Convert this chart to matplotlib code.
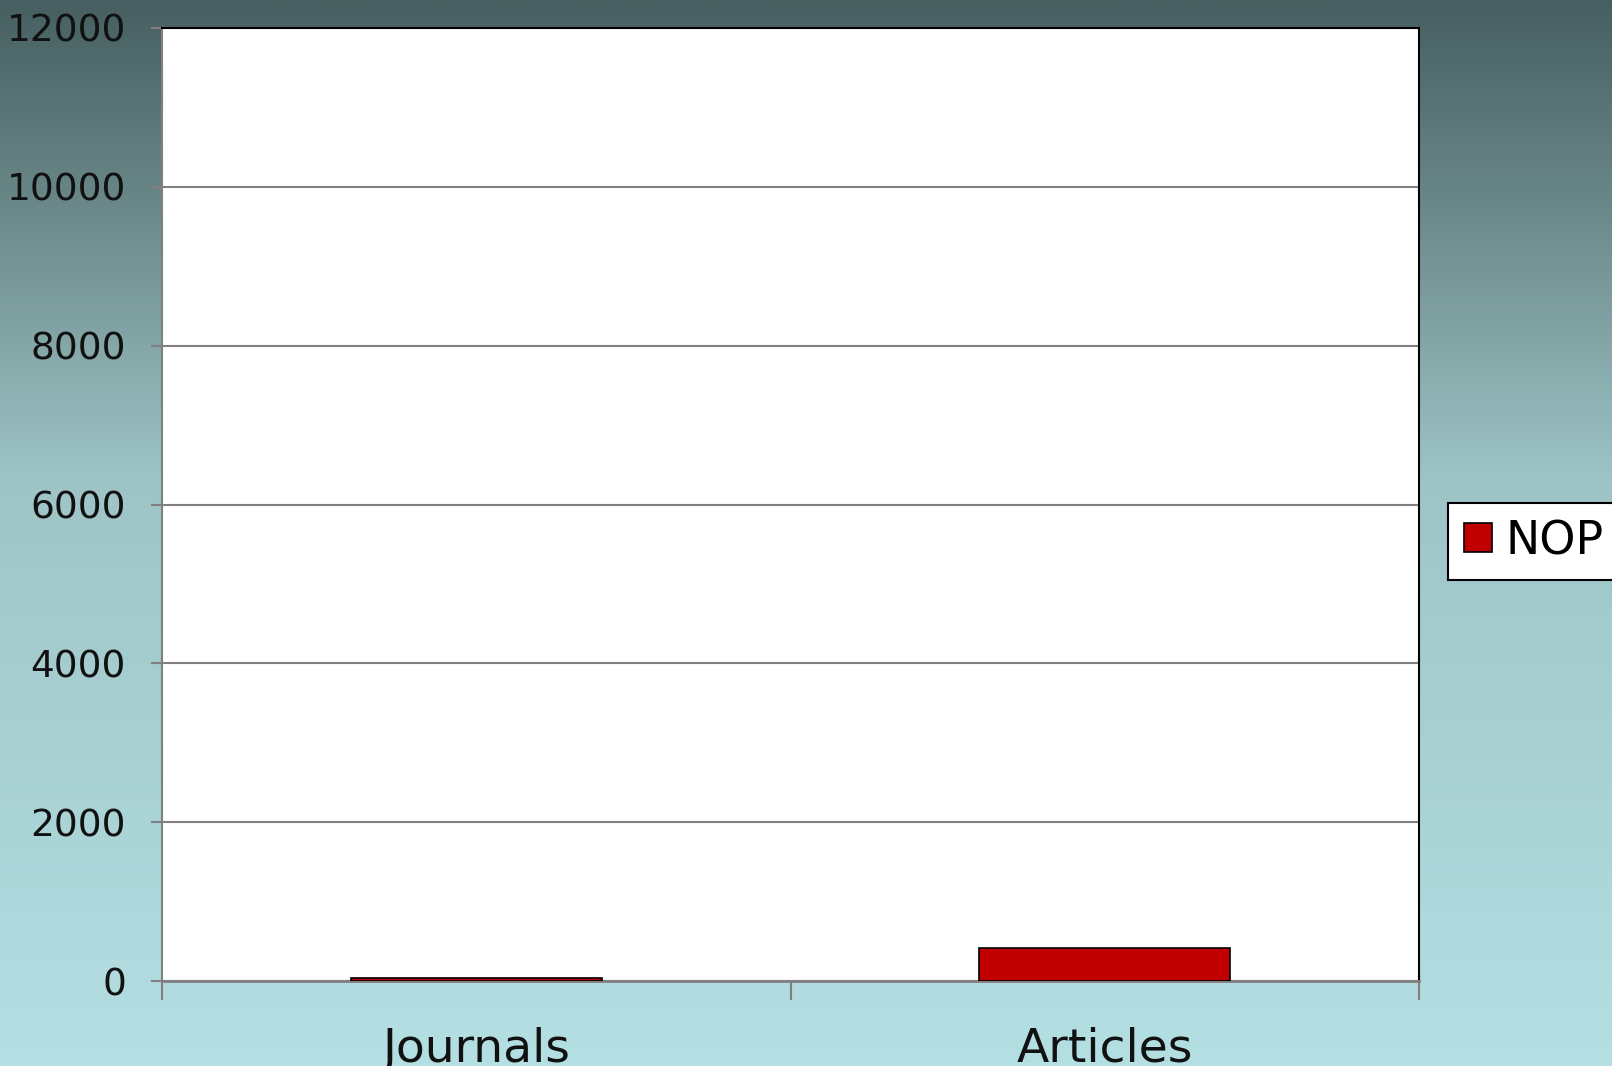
import numpy as np
import matplotlib
matplotlib.use("Agg")
import matplotlib.pyplot as plt
from matplotlib.colors import LinearSegmentedColormap

categories = ["Journals", "Articles"]
series_name = "NOP"
values = [40, 420]
yticks = [0, 2000, 4000, 6000, 8000, 10000, 12000]

W, H = 1612, 1066
fig = plt.figure(figsize=(W / 100, H / 100), dpi=100)

# gradient background
bg = fig.add_axes([0, 0, 1, 1], zorder=-10)
cmap = LinearSegmentedColormap.from_list(
    "bg",
    [(0.0, (71/255, 95/255, 96/255)),
     (0.2, (108/255, 138/255, 139/255)),
     (0.45, (158/255, 196/255, 198/255)),
     (1.0, (180/255, 223/255, 227/255))])
grad = np.linspace(0, 1, 512).reshape(-1, 1)
bg.imshow(grad, aspect="auto", cmap=cmap, extent=[0, 1, 0, 1], origin="upper")
bg.set_axis_off()

ax = fig.add_axes([162 / W, 1 - 981 / H, 1257 / W, 953 / H])
ax.set_facecolor("white")
x = np.arange(len(categories))
ax.bar(x, values, width=0.4, color="#c00000", edgecolor="black", linewidth=1.2,
       label=series_name, zorder=3)

ax.set_xlim(-0.5, len(categories) - 0.5)
ax.set_ylim(0, 12000)
ax.set_yticks(yticks)
ax.set_yticklabels([str(v) for v in yticks])
ax.yaxis.grid(True, color="#808080", linewidth=1.5, zorder=0)
ax.set_axisbelow(True)

# x ticks at category boundaries, labels at centers
ax.set_xticks([-0.5, 0.5, 1.5])
ax.set_xticklabels([])
ax.set_xticks(x, minor=True)
ax.set_xticklabels(categories, minor=True)
ax.tick_params(axis="x", which="major", length=14, width=1.5, color="#808080", direction="out")
ax.tick_params(axis="x", which="minor", length=0, labelsize=34, pad=33)
ax.tick_params(axis="y", length=8, width=1.5, color="#808080", labelsize=27, pad=18)

for lbl in ax.get_xticklabels(minor=True) + ax.get_yticklabels():
    lbl.set_color("#111111")

ax.spines["left"].set_color("#808080")
ax.spines["left"].set_linewidth(1.5)
ax.spines["bottom"].set_color("#808080")
ax.spines["bottom"].set_linewidth(2)
ax.spines["top"].set_color("black")
ax.spines["top"].set_linewidth(1.5)
ax.spines["right"].set_color("black")
ax.spines["right"].set_linewidth(1.5)

leg = fig.legend(loc="upper left", bbox_to_anchor=(1448 / W, 1 - 503 / H),
                 borderaxespad=0, fancybox=False, frameon=True,
                 fontsize=33, handlelength=0.6, handleheight=0.6,
                 handletextpad=0.3, borderpad=0.35)
leg.get_frame().set_edgecolor("black")
leg.get_frame().set_linewidth(1.5)
leg.get_frame().set_facecolor("white")
leg.get_frame().set_alpha(1)

fig.savefig("out.png", dpi=100)
